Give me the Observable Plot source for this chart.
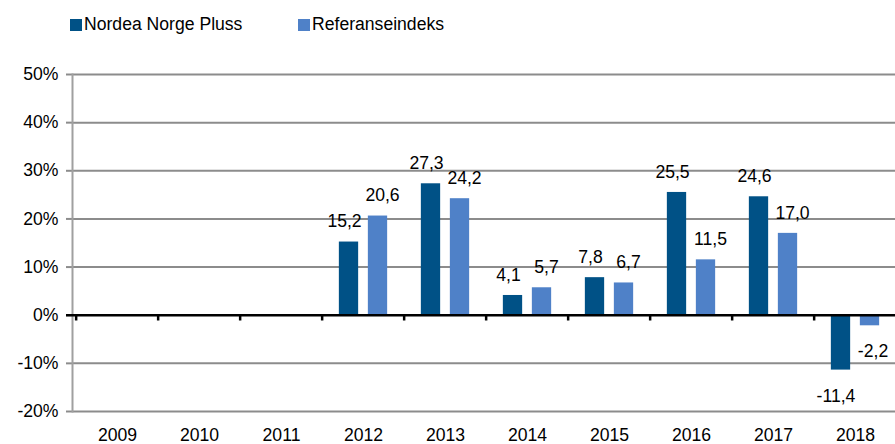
<!DOCTYPE html>
<html>
<head>
<meta charset="utf-8">
<script src="https://cdn.jsdelivr.net/npm/d3@7"></script>
<script src="https://cdn.jsdelivr.net/npm/@observablehq/plot@0.6"></script>
<style>
  html, body { margin: 0; padding: 0; background: #fff; overflow: hidden; width: 895px; height: 444px; }
  #legend { position: relative; height: 40px; font-family: "Liberation Sans", Arial, sans-serif; font-size: 17.6px; color: #000; }
  .item { position: absolute; top: 14px; display: flex; align-items: center; }
  .sw { width: 12px; height: 12px; margin-right: 2px; }
  #chart svg { display: block; overflow: visible; max-width: none !important; }
</style>
</head>
<body>
<div id="legend"></div>
<div id="chart"></div>
<script>
const years = ["2009","2010","2011","2012","2013","2014","2015","2016","2017","2018"];
const seriesNames = ["Nordea Norge Pluss", "Referanseindeks"];
const fundValues = [null, null, null, 15.2, 27.3, 4.1, 7.8, 25.5, 24.6, -11.4];
const indexValues = [null, null, null, 20.6, 24.2, 5.7, 6.7, 11.5, 17.0, -2.2];
const colors = ["#005186", "#4f81c8"];
const yTicks = [-20, -10, 0, 10, 20, 30, 40, 50];

// legend
const legend = document.getElementById("legend");
const legendX = [70, 298];
seriesNames.forEach((name, i) => {
  const it = document.createElement("div");
  it.className = "item";
  it.style.left = legendX[i] + "px";
  it.innerHTML = `<span class="sw" style="background:${colors[i]}"></span><span>${name}</span>`;
  legend.appendChild(it);
});

const rows = [];
years.forEach((y, i) => {
  if (fundValues[i] != null) rows.push({year: y, series: seriesNames[0], value: fundValues[i]});
  if (indexValues[i] != null) rows.push({year: y, series: seriesNames[1], value: indexValues[i]});
});

const W = 900, ML = 72, MR = 1;
const bw = (W - ML - MR) / years.length; // band width
const barW = 20, gap = 9;
const side = (bw - (2 * barW + gap)) / 2;
const fmt = v => d3.format(".1f")(v).replace(".", ",").replace("\u2212", "-");

const dark = rows.filter(d => d.series === seriesNames[0]);
const light = rows.filter(d => d.series === seriesNames[1]);

const font = "Liberation Sans, Arial, sans-serif";

const chart = Plot.plot({
  width: W,
  height: 404,
  marginLeft: ML,
  marginRight: MR,
  marginTop: 34,
  marginBottom: 33,
  style: {fontFamily: font, fontSize: "17.6px", color: "#000", background: "transparent"},
  x: {type: "band", domain: years, padding: 0, label: null},
  y: {domain: [-20, 50], label: null},
  marks: [
    Plot.ruleY(yTicks.filter(t => t !== 0), {stroke: "#8c8c8c", strokeWidth: 2, strokeOpacity: 1}),
    Plot.axisY({ticks: yTicks, tickFormat: d => d + "%", tickSize: 6, tickPadding: 8, stroke: "#8c8c8c", strokeWidth: 2, label: null, fontSize: "17.6px", fill: "#000"}),
    Plot.axisX({tickSize: 0, tickPadding: 0, dy: 16.5, label: null, fontSize: "17.6px", fill: "#000"}),
    Plot.frame({anchor: "left", stroke: "#a0a0a0", strokeWidth: 2}),
    Plot.barY(dark, {x: "year", y: "value", fill: colors[0], insetLeft: side, insetRight: bw - side - barW}),
    Plot.barY(light, {x: "year", y: "value", fill: colors[1], insetLeft: side + barW + gap, insetRight: side}),
    Plot.ruleY([0], {stroke: "#000", strokeWidth: 2.6, insetLeft: -6}),
    Plot.ruleX(years, {x: d => d, y1: 0, y2: -1.2, dx: -bw / 2, stroke: "#000", strokeWidth: 2.5}),
    Plot.text(dark.filter(d => d.value >= 0), {x: "year", y: "value", text: d => fmt(d.value), dx: -19, dy: -20.5, fill: "#000", fontSize: 17.6}),
    Plot.text(light.filter(d => d.value >= 0), {x: "year", y: "value", text: d => fmt(d.value), dx: 19, dy: -20.5, fill: "#000", fontSize: 17.6}),
    Plot.text(dark.filter(d => d.value < 0), {x: "year", y: "value", text: d => fmt(d.value), dx: -19.5, dy: 26, fill: "#000", fontSize: 17.6}),
    Plot.text(light.filter(d => d.value < 0), {x: "year", y: "value", text: d => fmt(d.value), dx: 17.5, dy: 26, fill: "#000", fontSize: 17.6})
  ]
});
chart.style.maxWidth = "none";
document.getElementById("chart").appendChild(chart);
</script>
</body>
</html>
